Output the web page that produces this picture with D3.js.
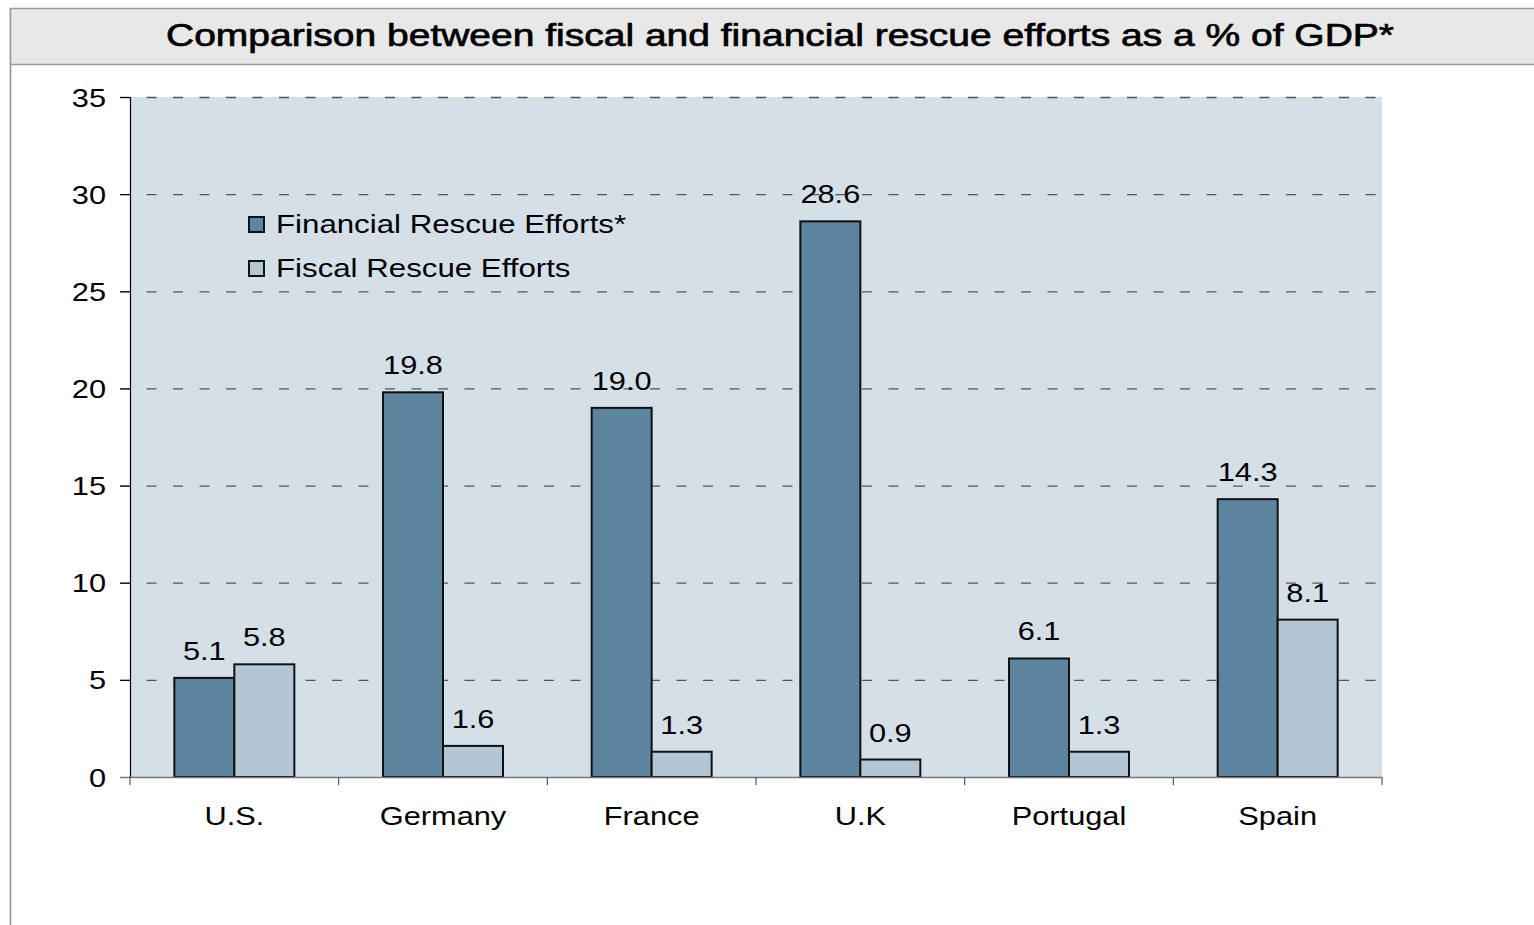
<!DOCTYPE html>
<html><head><meta charset="utf-8">
<script src="https://cdn.jsdelivr.net/npm/d3@7"></script>
<style>html,body{margin:0;padding:0;background:#fff;overflow:hidden}</style>
</head><body>
<svg id="c" width="1534" height="925"></svg>
<script>
const categories = ["U.S.", "Germany", "France", "U.K", "Portugal", "Spain"];
const financial = [5.1, 19.8, 19.0, 28.6, 6.1, 14.3];
const fiscal = [5.8, 1.6, 1.3, 0.9, 1.3, 8.1];
const seriesNames = ["Financial Rescue Efforts*", "Fiscal Rescue Efforts"];
const yTicks = [0, 5, 10, 15, 20, 25, 30, 35];
const title = "Comparison between fiscal and financial rescue efforts as a % of GDP*";

const colors = ["#5d85a0", "#b3c6d6"];
const FONT = "'Liberation Sans', Arial, sans-serif";
const SX = 1.23; // horizontal stretch of text as in reference
const svg = d3.select("#c");

const L = 130, R = 1382, T = 97, B = 777;
const x0 = d3.scaleBand().domain(categories).range([L, R]).paddingInner(0.425).paddingOuter(0.2125);
const x1 = d3.scaleBand().domain([0, 1]).range([0, x0.bandwidth()]);
const y = d3.scaleLinear().domain([0, 35]).range([B, T]);

function stretchedText(g, x, yy, txt, size, anchor, weight, sx) {
  return g.append("g").attr("transform", `translate(${x},${yy}) scale(${sx || SX},1)`)
    .append("text").attr("text-anchor", anchor || "start")
    .attr("font-family", FONT).attr("font-size", size).attr("font-weight", weight || "normal")
    .attr("fill", "#000").text(txt);
}

// frame / title band
svg.append("line").attr("x1", 10.5).attr("x2", 10.5).attr("y1", 8).attr("y2", 925).attr("stroke", "#8c8c8c").attr("stroke-width", 1.5);
svg.append("rect").attr("x", 10.5).attr("y", 8.5).attr("width", 1540).attr("height", 56)
  .attr("fill", "#e8e8e8").attr("stroke", "#9a9a9a").attr("stroke-width", 1.5);
svg.append("text").attr("x", 780).attr("y", 46).attr("text-anchor", "middle")
  .attr("font-family", FONT).attr("font-size", 31).attr("fill", "#000")
  .attr("stroke", "#000").attr("stroke-width", 0.7)
  .attr("textLength", 1228).attr("lengthAdjust", "spacingAndGlyphs").text(title);

// plot background
svg.append("rect").attr("x", L).attr("y", T).attr("width", R - L).attr("height", B - T).attr("fill", "#d5dfe8");

// gridlines
svg.append("g").selectAll("line").data(yTicks.filter(d => d > 0)).join("line")
  .attr("x1", 120).attr("x2", R).attr("y1", d => y(d) + 0.5).attr("y2", d => y(d) + 0.5)
  .attr("stroke", "#555").attr("stroke-width", 1.3).attr("stroke-dasharray", "10,16.5");

// y axis
const yAxis = svg.append("g").attr("transform", `translate(${L},0)`)
  .call(d3.axisLeft(y).tickValues(yTicks).tickSize(10).tickPadding(13).tickFormat(d3.format("d")));
yAxis.select(".domain").attr("stroke", "#000").attr("stroke-width", 1.2);
yAxis.selectAll(".tick line").attr("stroke", "#000");
yAxis.selectAll(".tick text").remove();
yAxis.selectAll(".tick").each(function (d) {
  stretchedText(d3.select(this), -24, 9, d, 25, "end");
});

// bars
const groups = svg.append("g").selectAll("g").data(categories).join("g")
  .attr("transform", d => `translate(${x0(d)},0)`);
groups.selectAll("rect").data((d, i) => [financial[i], fiscal[i]]).join("rect")
  .attr("x", (d, j) => x1(j)).attr("width", x1.bandwidth())
  .attr("y", d => y(d)).attr("height", d => B - y(d))
  .attr("fill", (d, j) => colors[j]).attr("stroke", "#111").attr("stroke-width", 2);
groups.each(function (c, i) {
  const g = d3.select(this);
  [financial[i], fiscal[i]].forEach((v, j) => {
    stretchedText(g, x1(j) + x1.bandwidth() / 2, y(v) - 18, v.toFixed(1), 25, "middle");
  });
});

// x axis
const xAxisG = svg.append("g").attr("transform", `translate(0,${B})`);
xAxisG.append("line").attr("x1", 120).attr("x2", R).attr("y1", 0.5).attr("y2", 0.5).attr("stroke", "#777").attr("stroke-width", 1.5);
const bounds = d3.range(categories.length + 1).map(i => L + i * (R - L) / categories.length);
xAxisG.selectAll("line.tk").data(bounds).join("line").attr("class", "tk")
  .attr("x1", d => d).attr("x2", d => d).attr("y1", 0).attr("y2", 8).attr("stroke", "#555").attr("stroke-width", 1.2);
categories.forEach(c => stretchedText(xAxisG, x0(c) + x0.bandwidth() / 2, 48, c, 25, "middle"));

// legend
const leg = svg.append("g").attr("transform", "translate(248,216)");
seriesNames.forEach((n, i) => {
  const r = leg.append("g").attr("transform", `translate(0,${i * 44})`);
  r.append("rect").attr("x", 1).attr("y", 1).attr("width", 15).attr("height", 15)
    .attr("fill", colors[i]).attr("stroke", "#111").attr("stroke-width", 2);
  stretchedText(r, 28, 17, n, 25, "start", "normal", 1.25);
});
</script>
</body></html>
